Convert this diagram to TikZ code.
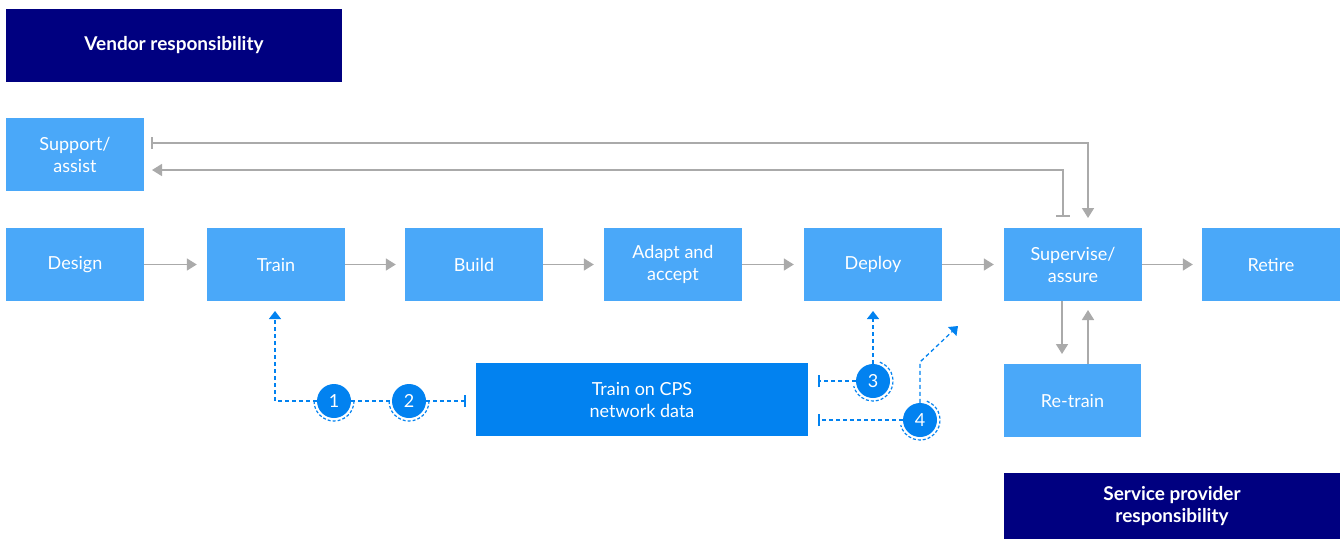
\documentclass[tikz,border=0pt]{standalone}
\usepackage{fontspec}
\setmainfont{Lato}
\usetikzlibrary{arrows.meta}
\definecolor{navy}{RGB}{0,0,128}
\definecolor{lblue}{RGB}{74,168,249}
\definecolor{dblue}{RGB}{2,130,240}
\definecolor{grey}{RGB}{170,170,170}
\begin{document}
\begin{tikzpicture}[x=1pt,y=-1pt,
  box/.style={fill=lblue,text=white,minimum width=138pt,minimum height=73pt,inner sep=0pt,align=center,font=\fontsize{18}{22}\selectfont},
  cps/.style={fill=dblue,text=white,minimum width=332pt,minimum height=73pt,inner sep=0pt,align=center,font=\fontsize{18}{22}\selectfont},
  resp/.style={fill=navy,text=white,inner sep=0pt,align=center,font=\bfseries\fontsize{19}{22}\selectfont},
  garrow/.style={draw=grey,line width=1.6pt,-{Triangle[length=10pt,width=12pt]}},
  gbar/.style={draw=grey,line width=1.6pt},
  dline/.style={draw=dblue,line width=1.3pt,dash pattern=on 4pt off 3pt},
  num/.style={circle,fill=dblue,text=white,minimum size=34pt,inner sep=0pt,font=\fontsize{18}{18}\selectfont},
  ring/.style={draw=dblue,line width=1.2pt,dash pattern=on 3pt off 2pt}
]
\useasboundingbox (0,0) rectangle (1343,539);
% responsibility boxes
\node[resp,minimum width=336pt,minimum height=73pt] (vendor) at (174,45.5) {Vendor responsibility};
\node[resp,minimum width=336pt,minimum height=66pt] (sp) at (1172,506) {Service provider\\responsibility};
% main boxes
\node[box] (support) at (75,154.5) {Support/\\assist};
\node[box] (design) at (75,264.5) {Design};
\node[box] (train) at (276,264.5) {Train};
\node[box] (build) at (474,264.5) {Build};
\node[box] (adapt) at (673,264.5) {Adapt and\\accept};
\node[box] (deploy) at (873,264.5) {Deploy};
\node[box] (sup) at (1073,264.5) {Supervise/\\assure};
\node[box] (retire) at (1271,264.5) {Retire};
\node[box,minimum width=137pt] (retrain) at (1072.5,400.5) {Re-train};
\node[cps] (cps) at (642,399.5) {Train on CPS\\network data};
% grey arrows
\draw[garrow] (design.east) -- ([xshift=-10pt]train.west);
\draw[garrow] (train.east) -- ([xshift=-9pt]build.west);
\draw[garrow] (build.east) -- ([xshift=-10pt]adapt.west);
\draw[garrow] (adapt.east) -- ([xshift=-10pt]deploy.west);
\draw[garrow] (deploy.east) -- ([xshift=-10pt]sup.west);
\draw[garrow] (sup.east) -- ([xshift=-9pt]retire.west);
% support loop
\coordinate (s1) at (152,143);
\coordinate (s2) at (1088,143);
\coordinate (s3) at (1088,218);
\draw[gbar] ([yshift=-6pt]s1) -- ([yshift=6pt]s1);
\draw[garrow] (s1) -- (s2) -- (s3);
\coordinate (t1) at (1063,216);
\coordinate (t2) at (1063,170);
\coordinate (t3) at (152,170);
\draw[gbar] ([xshift=-7pt]t1) -- ([xshift=7pt]t1);
\draw[garrow] (t1) -- (t2) -- (t3);
% retrain arrows
\coordinate (r1) at (1062,301);
\coordinate (r2) at (1062,354);
\coordinate (r3) at (1088,364);
\coordinate (r4) at (1088,310);
\draw[garrow] (r1) -- (r2);
\draw[garrow] (r3) -- (r4);
% numbered circles
\node[num] (n1) at (334,401) {1};
\node[num] (n2) at (409,401) {2};
\node[num] (n3) at (873,381) {3};
\node[num] (n4) at (920,420) {4};
\draw[ring] ([shift={(180:20pt)}]n1.center) arc[start angle=180,end angle=360,radius=20pt];
\draw[ring] ([shift={(180:20pt)}]n2.center) arc[start angle=180,end angle=360,radius=20pt];
\draw[ring] ([shift={(70:20pt)}]n3.center) arc[start angle=70,end angle=-165,radius=20pt];
\draw[ring] ([shift={(70:20pt)}]n4.center) arc[start angle=70,end angle=-165,radius=20pt];
% dashed blue paths
\coordinate (b2) at (465,401);
\coordinate (b3) at (819,381);
\coordinate (b4) at (819,420);
\coordinate (up1) at (275,311);
\coordinate (up3) at (873,311);
\coordinate (d4) at (958,326);
\draw[dline,-{Triangle[length=8pt,width=12pt]}] (n1.west) -- (275,401) -- (up1);
\draw[dline] (n1.east) -- (n2.west);
\draw[dline] (n2.east) -- (b2);
\draw[draw=dblue,line width=1.3pt] ([yshift=-6pt]b2) -- ([yshift=6pt]b2);
\draw[dline,-{Triangle[length=8pt,width=12pt]}] (n3.north) -- (up3);
\draw[dline] (n3.west) -- (b3);
\draw[draw=dblue,line width=1.3pt] ([yshift=-6pt]b3) -- ([yshift=6pt]b3);
\draw[dline] (n4.west) -- (b4);
\draw[draw=dblue,line width=1.3pt] ([yshift=-6pt]b4) -- ([yshift=6pt]b4);
\draw[dline,-{Triangle[length=8pt,width=12pt]}] (n4.north) -- (920,362) -- (d4);
\end{tikzpicture}
\end{document}
